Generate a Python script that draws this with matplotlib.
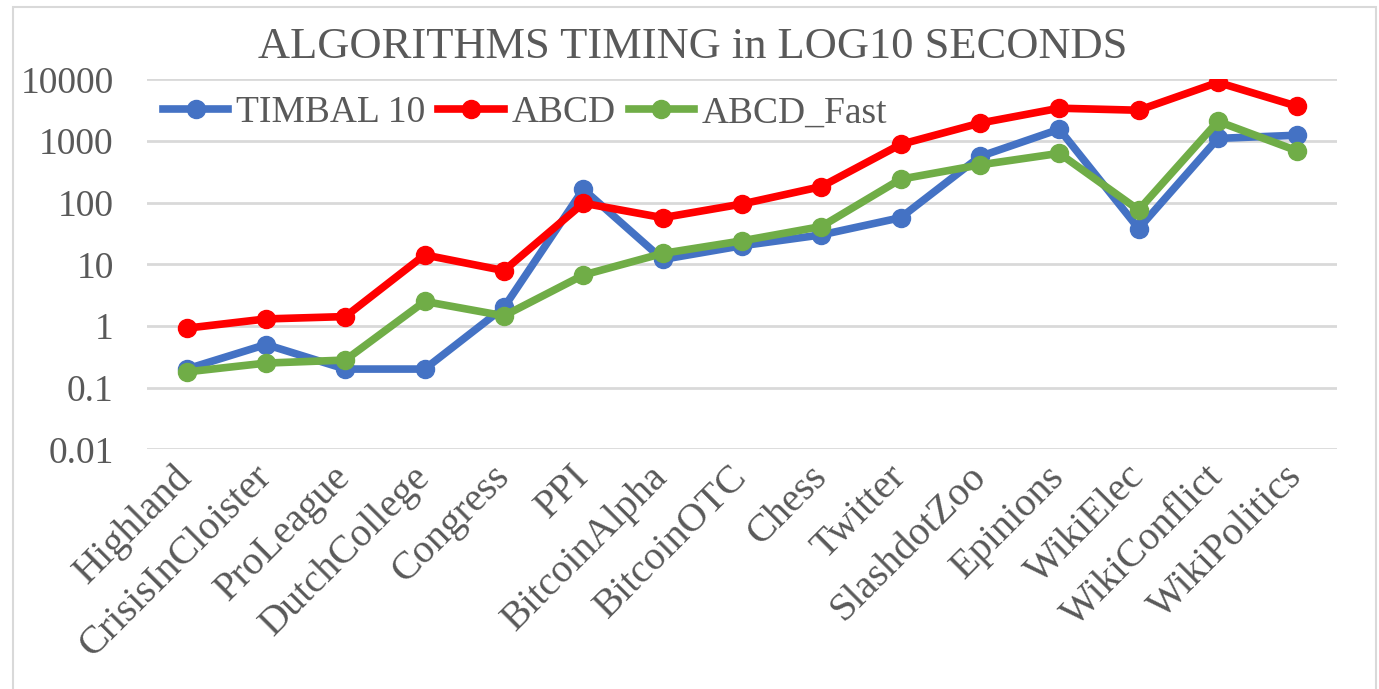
import matplotlib
matplotlib.use("Agg")
import matplotlib.pyplot as plt
from matplotlib.patches import Rectangle

# data
datasets = ['Highland', 'CrisisInCloister', 'ProLeague', 'DutchCollege', 'Congress',
            'PPI', 'BitcoinAlpha', 'BitcoinOTC', 'Chess', 'Twitter',
            'SlashdotZoo', 'Epinions', 'WikiElec', 'WikiConflict', 'WikiPolitics']
timbal_10 = [0.2, 0.5, 0.2, 0.2, 2.0, 165, 12, 20, 30, 57, 560, 1550, 38, 1100, 1240]
abcd = [0.92, 1.3, 1.42, 14.2, 7.9, 98, 57, 95, 182, 880, 1950, 3400, 3150, 8900, 3650]
abcd_fast = [0.18, 0.25, 0.28, 2.5, 1.46, 6.7, 15, 24, 41, 240, 410, 630, 76, 2080, 690]
ytick_vals = [0.01, 0.1, 1, 10, 100, 1000, 10000]
ytick_labels = ['0.01', '0.1', '1', '10', '100', '1000', '10000']

plt.rcParams['font.family'] = ['Liberation Serif', 'DejaVu Serif']
grey_txt = '#595959'

fig = plt.figure(figsize=(13.79, 6.89), dpi=100)
ax = fig.add_axes([0.1066, 0.3479, 0.8629, 0.537])

x = list(range(len(datasets)))
ax.plot(x, timbal_10, color='#4472C4', lw=5.5, marker='o', ms=13, label='TIMBAL 10')
ax.plot(x, abcd, color='#FF0000', lw=5.5, marker='o', ms=13, label='ABCD')
ax.plot(x, abcd_fast, color='#70AD47', lw=5.5, marker='o', ms=13, label='ABCD_Fast')

ax.set_yscale('log')
ax.set_ylim(0.01, 10000)
ax.set_xlim(-0.5, len(datasets) - 0.5)
ax.set_yticks(ytick_vals)
ax.set_yticklabels(ytick_labels)
ax.minorticks_off()
ax.set_xticks(x)
ax.set_xticklabels(datasets, rotation=45, ha='right', va='center', rotation_mode='anchor')

ax.tick_params(axis='y', length=0, pad=24, labelsize=27, labelcolor=grey_txt)
ax.tick_params(axis='x', length=0, pad=16, labelsize=29, labelcolor=grey_txt)
ax.grid(axis='y', color='#D9D9D9', lw=2)
ax.set_axisbelow(True)
for s in ax.spines.values():
    s.set_visible(False)

fig.text(0.502, 0.932, 'ALGORITHMS TIMING in LOG10 SECONDS', ha='center', va='center',
         fontsize=32, color=grey_txt)

leg = ax.legend(loc='center left', bbox_to_anchor=(0.118, 0.836), bbox_transform=fig.transFigure,
                ncol=3, frameon=False, fontsize=27, handlelength=1.75, handletextpad=0.2,
                columnspacing=0.35, borderaxespad=0, borderpad=0)
for t in leg.get_texts():
    t.set_color(grey_txt)

# outer chart border
fig.patches.append(Rectangle((0.0094, -0.05), 0.9884, 1.04, transform=fig.transFigure,
                             fill=False, edgecolor='#D9D9D9', lw=1.5))

fig.savefig('out.png', dpi=100, facecolor='white')
